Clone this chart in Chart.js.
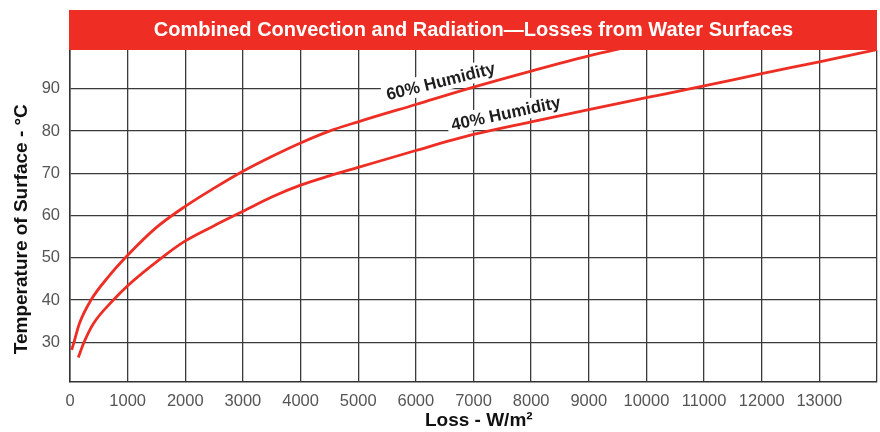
<!DOCTYPE html>
<html>
<head>
<meta charset="utf-8">
<title>Combined Convection and Radiation - Losses from Water Surfaces</title>
<script src="https://cdn.jsdelivr.net/npm/chart.js"></script>
<style>
  html, body { margin: 0; padding: 0; background: #fff; }
</style>
</head>
<body>
<canvas id="lossChart" width="880" height="432"></canvas>
<script>
// chart text
var chartTitle = 'Combined Convection and Radiation\u2014Losses from Water Surfaces';
var xTitle = 'Loss - W/m\u00b2';
var yTitle = 'Temperature of Surface - \u00b0C';

// tick labels
var xTicks = [0, 1000, 2000, 3000, 4000, 5000, 6000, 7000, 8000, 9000, 10000, 11000, 12000, 13000];
var yTicks = [30, 40, 50, 60, 70, 80, 90];

// 60% humidity curve (loss W/m2, surface temp C)
var loss60 = [29, 69, 162, 364, 665, 1000, 1500, 2000, 2500, 3000, 3500, 4000, 4500, 5000, 6000, 7000, 8000, 9000, 9700];
var temp60 = [28.2, 30, 34.4, 40, 45.5, 50.6, 57.2, 62.2, 66.5, 70.5, 74.0, 77.2, 80.0, 82.2, 86.3, 90.4, 94.2, 97.8, 100];

// 40% humidity curve
var loss40 = [144, 243, 405, 752, 1000, 1590, 2000, 2500, 3000, 3500, 4000, 4500, 5000, 6000, 7000, 8000, 9000, 10000, 11000, 12000, 13000, 14000];
var temp40 = [26.4, 30, 34.4, 40, 43.4, 50, 54.0, 57.6, 61.0, 64.4, 67.2, 69.4, 71.4, 75.4, 79.2, 82.2, 85.1, 87.9, 90.7, 93.6, 96.4, 99.3];

var curveNames = ['60% Humidity', '40% Humidity'];

var FONT = '"Liberation Sans", Arial, Helvetica, sans-serif';
var RED = '#ee2e24';

function toPoints(xs, ys) {
    return xs.map(function (x, i) { return { x: x, y: ys[i] }; });
}

// red title band above the plot
var titleBand = {
    id: 'titleBand',
    afterDraw: function (chart) {
        var a = chart.chartArea;
        var ctx = chart.ctx;
        ctx.save();
        ctx.fillStyle = RED;
        ctx.fillRect(a.left - 1, 10, a.right - a.left + 1, a.top - 10);
        ctx.fillStyle = '#fff';
        ctx.font = 'bold 20px ' + FONT;
        ctx.textAlign = 'center';
        ctx.textBaseline = 'middle';
        ctx.fillText(chartTitle, (a.left + a.right) / 2, 30);
        ctx.restore();
    }
};

// curve names written along the lines, on a white box
var curveLabels = {
    id: 'curveLabels',
    beforeDatasetsDraw: function (chart, args, opts) {
        var ctx = chart.ctx;
        var xs = chart.scales.x, ys = chart.scales.y;
        ctx.save();
        ctx.font = 'bold 17px ' + FONT;
        opts.items.forEach(function (item) {
            var px = xs.getPixelForValue(item.x);
            var py = ys.getPixelForValue(item.y);
            var w = ctx.measureText(item.text).width;
            ctx.save();
            ctx.translate(px, py);
            ctx.rotate(item.angle * Math.PI / 180);
            ctx.fillStyle = '#fff';
            ctx.fillRect(-w / 2 - 4, -10, w + 8, 20);
            ctx.fillStyle = '#1e1e1e';
            ctx.textAlign = 'center';
            ctx.textBaseline = 'middle';
            ctx.fillText(item.text, 0, 1);
            ctx.restore();
        });
        ctx.restore();
    }
};

Chart.defaults.font.family = FONT;

var ctx = document.getElementById('lossChart');
new Chart(ctx, {
    type: 'line',
    data: {
        datasets: [{
            label: curveNames[0],
            data: toPoints(loss60, temp60),
            borderColor: RED,
            borderWidth: 2.8,
            pointRadius: 0,
            fill: false,
            cubicInterpolationMode: 'monotone'
        }, {
            label: curveNames[1],
            data: toPoints(loss40, temp40),
            borderColor: RED,
            borderWidth: 2.8,
            pointRadius: 0,
            fill: false,
            cubicInterpolationMode: 'monotone'
        }]
    },
    options: {
        responsive: false,
        animation: false,
        layout: {
            padding: { top: 50, right: 3, left: 0, bottom: 0 }
        },
        scales: {
            x: {
                type: 'linear',
                min: 0,
                max: 14000,
                afterBuildTicks: function (scale) {
                    scale.ticks = xTicks.concat([14000]).map(function (v) { return { value: v }; });
                },
                afterFit: function (scale) {
                    scale.height = 50;
                    scale.paddingLeft = 0;
                    scale.paddingRight = 0;
                },
                grid: { color: '#3a3a3a', lineWidth: 1.3, drawTicks: false },
                border: { color: '#333', width: 1.5 },
                ticks: {
                    padding: 10,
                    color: '#555',
                    font: { size: 16.5 },
                    maxRotation: 0,
                    autoSkip: false,
                    callback: function (v) { return xTicks.indexOf(v) >= 0 ? String(v) : ''; }
                },
                title: {
                    display: true,
                    text: '\u00a0\u00a0' + xTitle,
                    color: '#111',
                    font: { size: 19, weight: 'bold' },
                    padding: { top: 0, bottom: 0 }
                }
            },
            y: {
                type: 'linear',
                min: 20.6,
                max: 99.2,
                afterBuildTicks: function (scale) {
                    scale.ticks = yTicks.map(function (v) { return { value: v }; });
                },
                afterFit: function (scale) { scale.width = 70; },
                grid: { color: '#3a3a3a', lineWidth: 1.3, drawTicks: false },
                border: { color: '#333', width: 1.5 },
                ticks: {
                    padding: 10,
                    color: '#555',
                    font: { size: 16.5 }
                },
                title: {
                    display: true,
                    text: yTitle + '\u00a0\u00a0\u00a0\u00a0\u00a0',
                    color: '#111',
                    font: { size: 19, weight: 'bold' },
                    padding: { top: 10, bottom: 0 }
                }
            }
        },
        plugins: {
            legend: { display: false },
            tooltip: { enabled: false },
            curveLabels: {
                items: [
                    { text: curveNames[0], x: 6430, y: 91.8, angle: -14 },
                    { text: curveNames[1], x: 7560, y: 84.2, angle: -12 }
                ]
            }
        }
    },
    plugins: [curveLabels, titleBand]
});
</script>
</body>
</html>
